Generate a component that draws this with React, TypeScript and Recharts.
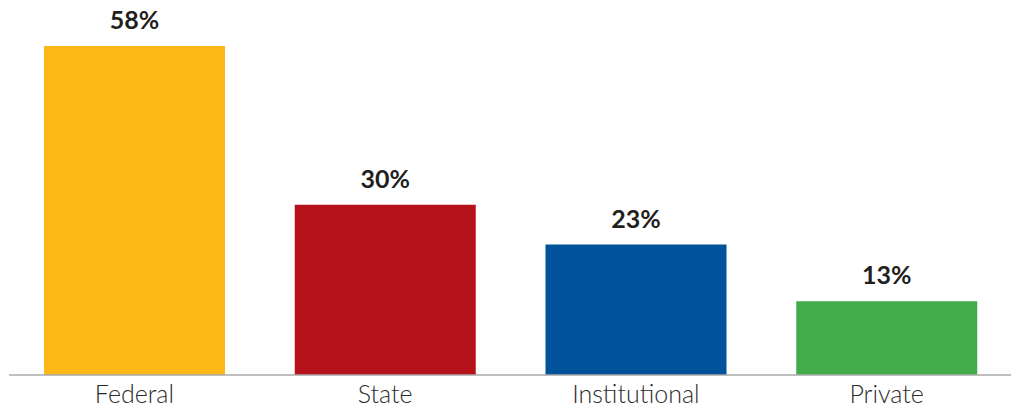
import { BarChart, Bar, Cell, XAxis, YAxis, LabelList } from 'recharts'

const categories = ['Federal', 'State', 'Institutional', 'Private']
const shares = [58, 30, 23, 13]
const colors = ['#FBB817', '#B5121B', '#00529B', '#43AC4A']

const data = categories.map((name, i) => ({ name, share: shares[i] }))

const font = 'Lato, "Open Sans", sans-serif'

export default function App() {
  return (
    <div style={{ position: 'absolute', left: 0, top: 0, background: '#fff' }}>
      <BarChart
        width={1011}
        height={408}
        data={data}
        margin={{ top: 46, right: -1, bottom: 0, left: 9 }}
        barCategoryGap={35}
      >
        <YAxis hide domain={[0, 58]} />
        <XAxis
          dataKey="name"
          height={33}
          interval={0}
          tickLine={false}
          tickSize={0}
          tickMargin={10}
          axisLine={{ stroke: '#aaaaaa', strokeWidth: 1.5 }}
          tick={{ fill: '#2b2b2b', fontSize: 25, fontFamily: font, fontWeight: 300 }}
        />
        <Bar dataKey="share" isAnimationActive={false}>
          {data.map((d, i) => (
            <Cell key={d.name} fill={colors[i]} />
          ))}
          <LabelList
            dataKey="share"
            position="top"
            offset={17}
            formatter={(v: number) => `${v}%`}
            style={{ fill: '#231F20', fontSize: 25, fontWeight: 700, fontFamily: font }}
          />
        </Bar>
      </BarChart>
    </div>
  )
}
